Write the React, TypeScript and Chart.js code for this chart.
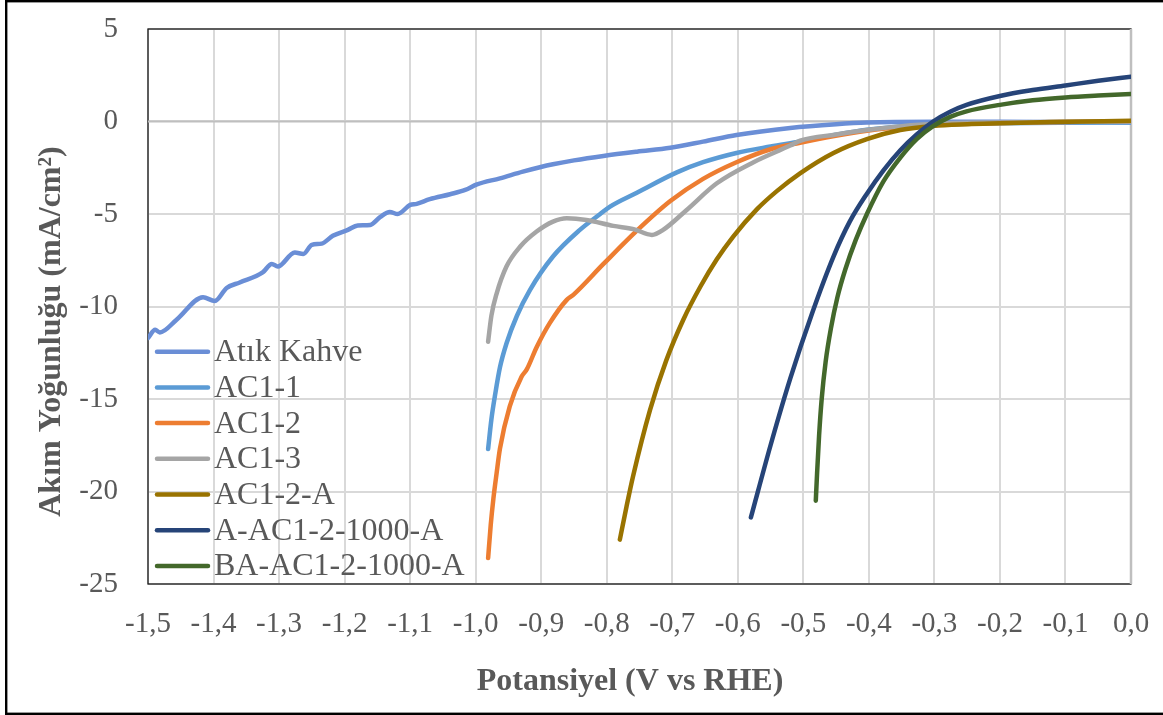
import React, { useEffect, useRef } from "react";
import { Chart, registerables } from "chart.js";

Chart.register(...registerables);

// ---------- Data (Potansiyel V vs RHE, Akım Yoğunluğu mA/cm²) ----------
const seriesNames = [
  "Atık Kahve",
  "AC1-1",
  "AC1-2",
  "AC1-3",
  "AC1-2-A",
  "A-AC1-2-1000-A",
  "BA-AC1-2-1000-A",
];
const seriesColors = ["#6A8ED6", "#5B9BD5", "#ED7D31", "#A5A5A5", "#997300", "#264478", "#43682B"];

const xTickMin = -1.5;
const xTickMax = 0;
const xTickStep = 0.1;
const yTickMin = -25;
const yTickMax = 5;
const yTickStep = 5;

const atikKahveV = [
  -1.5, -1.489, -1.482, -1.456, -1.416, -1.398, -1.38, -1.36, -1.325, -1.311, -1.302, -1.276, -1.263,
  -1.25, -1.235, -1.218, -1.195, -1.18, -1.161, -1.146, -1.131, -1.119, -1.1, -1.09, -1.07, -1.039,
  -1.016, -0.998, -0.963, -0.928, -0.902, -0.882, -0.85, -0.805, -0.754, -0.703, -0.653, -0.602, -0.52,
  -0.45, -0.403, -0.3, -0.2, -0.1, 0,
];
const atikKahveJ = [
  -11.7, -11.26, -11.4, -10.7, -9.5, -9.7, -9.0, -8.7, -8.16, -7.7, -7.84, -7.08, -7.16, -6.67, -6.6,
  -6.18, -5.86, -5.62, -5.59, -5.17, -4.89, -5.0, -4.51, -4.45, -4.2, -3.93, -3.7, -3.4, -3.07, -2.71,
  -2.47, -2.31, -2.1, -1.86, -1.63, -1.42, -1.09, -0.73, -0.35, -0.15, -0.06, -0.02, -0.02, -0.04, -0.05,
];

const ac11V = [
  -0.981, -0.976, -0.97, -0.963, -0.953, -0.937, -0.917, -0.882, -0.841, -0.81, -0.795, -0.754, -0.693,
  -0.653, -0.602, -0.55, -0.505, -0.455, -0.403, -0.35, -0.3, -0.2, -0.1, 0,
];
const ac11J = [
  -17.7, -16.1, -14.7, -13.3, -12.0, -10.5, -9.1, -7.3, -5.86, -5.0, -4.6, -3.85, -2.75, -2.2, -1.7,
  -1.35, -1.08, -0.75, -0.45, -0.25, -0.15, -0.1, -0.07, -0.05,
];

const ac12V = [
  -0.981, -0.977, -0.973, -0.968, -0.963, -0.948, -0.93, -0.922, -0.907, -0.887, -0.861, -0.851, -0.805,
  -0.754, -0.703, -0.653, -0.602, -0.55, -0.505, -0.455, -0.403, -0.35, -0.3, -0.2, -0.1, 0,
];
const ac12J = [
  -23.6, -21.8, -20.4, -19.0, -17.7, -15.4, -13.8, -13.4, -12.2, -10.9, -9.64, -9.37, -7.7, -5.9, -4.3,
  -3.1, -2.2, -1.5, -1.15, -0.8, -0.5, -0.3, -0.18, -0.08, -0.03, 0.02,
];

const ac13V = [
  -0.981, -0.976, -0.968, -0.953, -0.932, -0.907, -0.882, -0.861, -0.831, -0.79, -0.759, -0.731, -0.714,
  -0.678, -0.632, -0.576, -0.52, -0.505, -0.45, -0.403, -0.35, -0.3, -0.2, -0.1, 0,
];
const ac13J = [
  -11.9, -10.5, -9.3, -7.84, -6.76, -5.95, -5.41, -5.23, -5.32, -5.64, -5.82, -6.13, -5.86, -4.78,
  -3.34, -2.2, -1.3, -1.04, -0.7, -0.46, -0.25, -0.12, -0.05, -0.02, 0,
];

const ac12aV = [
  -0.78, -0.77, -0.76, -0.734, -0.709, -0.683, -0.657, -0.632, -0.607, -0.571, -0.54, -0.505, -0.454,
  -0.403, -0.352, -0.302, -0.25, -0.2, -0.124, 0,
];
const ac12aJ = [
  -22.6, -20.85, -19.2, -15.6, -12.9, -10.7, -8.92, -7.45, -6.22, -4.75, -3.75, -2.8, -1.7, -0.95, -0.46,
  -0.24, -0.15, -0.1, -0.03, 0.04,
];

const aAc121000aV = [
  -0.58, -0.55, -0.52, -0.487, -0.454, -0.429, -0.403, -0.378, -0.352, -0.327, -0.302, -0.276, -0.251,
  -0.2, -0.15, -0.1, -0.05, 0,
];
const aAc121000aJ = [
  -21.4, -17.5, -13.9, -10.4, -7.3, -5.4, -3.9, -2.65, -1.55, -0.7, 0, 0.53, 0.9, 1.38, 1.7, 1.95, 2.2,
  2.42,
];

const baAc121000aV = [
  -0.481, -0.479, -0.476, -0.472, -0.466, -0.458, -0.448, -0.436, -0.42, -0.403, -0.378, -0.352, -0.327,
  -0.302, -0.276, -0.251, -0.2, -0.15, -0.1, -0.05, 0,
];
const baAc121000aJ = [
  -20.5, -19.0, -17.0, -15.0, -13.0, -11.2, -9.5, -8.0, -6.4, -5.0, -3.25, -1.95, -0.95, -0.25, 0.25,
  0.55, 0.9, 1.15, 1.3, 1.4, 1.48,
];

const seriesV = [atikKahveV, ac11V, ac12V, ac13V, ac12aV, aAc121000aV, baAc121000aV];
const seriesJ = [atikKahveJ, ac11J, ac12J, ac13J, ac12aJ, aAc121000aJ, baAc121000aJ];

const xTitle = "Potansiyel (V vs RHE)";
const yTitle = "Akım Yoğunluğu (mA/cm²)";

// ---------- Styling ----------
const W = 1163;
const H = 715;
const FONT = "'Liberation Serif', 'Times New Roman', serif";
const TEXT = "#595959";
const PLOT_LEFT = 148;
const PLOT_RIGHT = 1131;
const PLOT_TOP = 29;
const PLOT_BOTTOM = 584;

const decorPlugin = {
  id: "decor",
  beforeDatasetsDraw(chart: any) {
    const { ctx, chartArea, scales } = chart;
    const x0 = scales.x.getPixelForValue(0);
    const y0 = scales.y.getPixelForValue(0);
    ctx.save();
    ctx.strokeStyle = "#1a1a1a";
    ctx.lineWidth = 1.3;
    ctx.strokeRect(chartArea.left, chartArea.top, chartArea.right - chartArea.left, chartArea.bottom - chartArea.top);
    ctx.strokeStyle = "#BFBFBF";
    ctx.lineWidth = 2;
    ctx.beginPath();
    ctx.moveTo(chartArea.left, y0);
    ctx.lineTo(chartArea.right, y0);
    ctx.stroke();
    ctx.lineWidth = 2.5;
    ctx.beginPath();
    ctx.moveTo(x0, chartArea.top);
    ctx.lineTo(x0, chartArea.bottom);
    ctx.stroke();
    ctx.restore();
  },
  afterDraw(chart: any) {
    const { ctx } = chart;
    ctx.save();
    ctx.strokeStyle = "#000";
    ctx.lineWidth = 2.4;
    ctx.strokeRect(6.2, 1.2, 1200, 712.6);

    ctx.fillStyle = TEXT;
    ctx.font = `bold 32px ${FONT}`;
    ctx.textAlign = "center";
    ctx.textBaseline = "alphabetic";
    ctx.fillText(xTitle, 630, 690);
    ctx.save();
    ctx.translate(60, 331.5);
    ctx.rotate(-Math.PI / 2);
    ctx.fillText(yTitle, 0, 0);
    ctx.restore();

    ctx.font = `32px ${FONT}`;
    ctx.textAlign = "left";
    ctx.textBaseline = "middle";
    ctx.lineCap = "round";
    seriesNames.forEach((name, i) => {
      const y = 351.7 + i * 35.7;
      ctx.strokeStyle = seriesColors[i];
      ctx.lineWidth = 4.5;
      ctx.beginPath();
      ctx.moveTo(157, y);
      ctx.lineTo(208, y);
      ctx.stroke();
      ctx.fillStyle = TEXT;
      ctx.fillText(name, 214, y + 1);
    });
    ctx.restore();
  },
};

export default function App() {
  const canvasRef = useRef<HTMLCanvasElement | null>(null);

  useEffect(() => {
    if (!canvasRef.current) return;
    const n = seriesNames.length;
    const datasets = seriesNames.map((name, i) => ({
      label: name,
      data: seriesV[i].map((v, k) => ({ x: v, y: seriesJ[i][k] })),
      borderColor: seriesColors[i],
      backgroundColor: seriesColors[i],
      borderWidth: 4.5,
      pointRadius: 0,
      pointHoverRadius: 0,
      fill: false,
      cubicInterpolationMode: "monotone" as const,
      borderCapStyle: "round" as const,
      borderJoinStyle: "round" as const,
      order: n - 1 - i,
    }));

    const chart = new Chart(canvasRef.current, {
      type: "line",
      data: { datasets },
      plugins: [decorPlugin],
      options: {
        animation: false,
        responsive: true,
        maintainAspectRatio: false,
        devicePixelRatio: 1,
        layout: { padding: { left: 0, top: PLOT_TOP, right: W - PLOT_RIGHT, bottom: 0 } },
        plugins: { legend: { display: false }, tooltip: { enabled: false }, title: { display: false } },
        scales: {
          x: {
            type: "linear",
            min: xTickMin,
            max: xTickMax,
            border: { display: false },
            grid: { color: "#D9D9D9", lineWidth: 2, drawTicks: false },
            ticks: {
              stepSize: xTickStep,
              color: TEXT,
              padding: 23,
              maxRotation: 0,
              autoSkip: false,
              font: { family: FONT, size: 29 },
              callback: (v: any) => {
                let r = Math.round(Number(v) * 10) / 10;
                if (r === 0) r = 0;
                return r.toFixed(1).replace(".", ",");
              },
            },
            afterFit: (s: any) => {
              s.height = H - PLOT_BOTTOM;
              s.paddingLeft = 0;
              s.paddingRight = 0;
            },
          },
          y: {
            type: "linear",
            min: yTickMin,
            max: yTickMax,
            border: { display: false },
            grid: { color: "#D9D9D9", lineWidth: 2, drawTicks: false },
            ticks: {
              stepSize: yTickStep,
              color: TEXT,
              padding: 30,
              font: { family: FONT, size: 29 },
              callback: (v: any) => String(Math.round(Number(v))),
            },
            afterFit: (s: any) => {
              s.width = PLOT_LEFT;
              s.paddingTop = 0;
              s.paddingBottom = 0;
            },
          },
        },
      },
    });
    return () => chart.destroy();
  }, []);

  return (
    <div style={{ position: "absolute", left: 0, top: 0, width: W, height: H, background: "#fff" }}>
      <canvas ref={canvasRef} />
    </div>
  );
}
